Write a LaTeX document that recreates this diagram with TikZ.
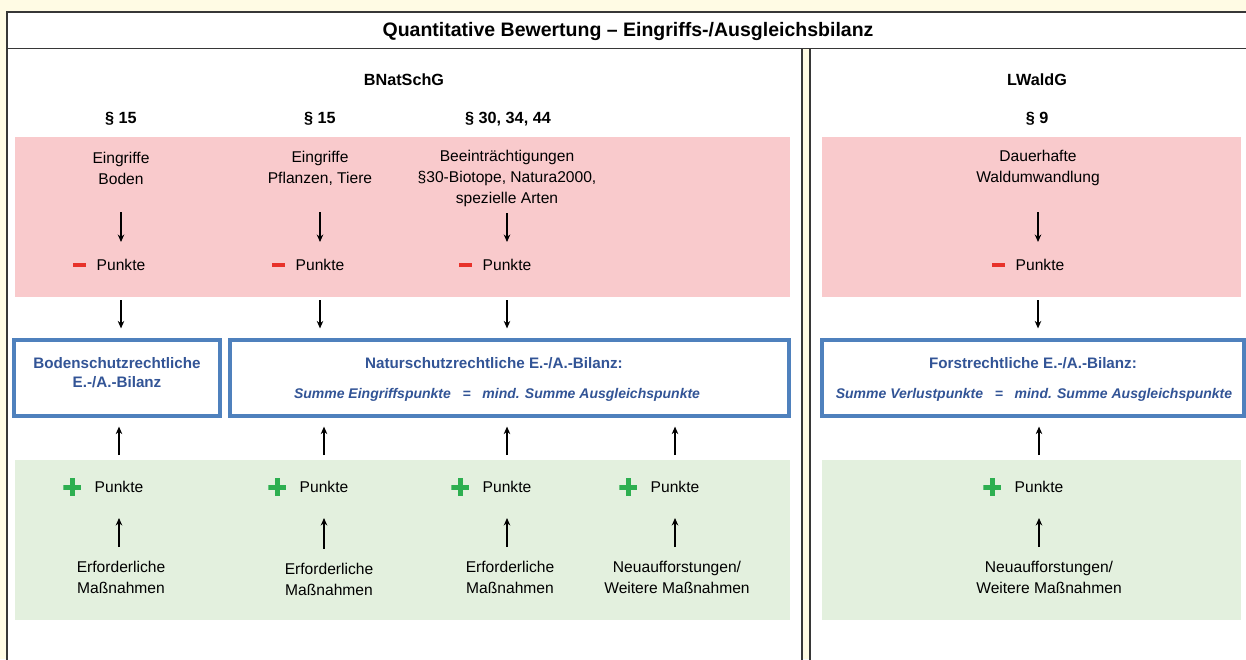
\documentclass[tikz,border=0pt]{standalone}
\usepackage{fontspec}
\setmainfont{Liberation Sans}
\usetikzlibrary{arrows.meta,positioning,calc}
\definecolor{cream}{RGB}{255,251,228}
\definecolor{rahmen}{RGB}{55,55,55}
\definecolor{rosa}{RGB}{249,202,204}
\definecolor{hellgruen}{RGB}{227,240,222}
\definecolor{blaurand}{RGB}{79,129,189}
\definecolor{blautext}{RGB}{50,84,150}
\definecolor{minusrot}{RGB}{232,50,42}
\definecolor{plusgruen}{RGB}{45,175,80}

\begin{document}
\begin{tikzpicture}[x=1pt,y=-1pt,
  txt/.style={font=\fontsize{15.6}{21}\selectfont, align=center, inner sep=0pt},
  head/.style={font=\fontsize{16.2}{18}\selectfont\bfseries, inner sep=0pt},
  bilanz/.style={draw=blaurand, line width=3.2pt, minimum height=76pt, inner sep=0pt},
  bluetxt/.style={txt, text=blautext, font=\fontsize{15.2}{19}\selectfont\bfseries},
  formel/.style={txt, text=blautext, font=\fontsize{14}{18}\selectfont\bfseries\itshape},
  minusbar/.style={fill=minusrot, minimum width=13pt, minimum height=4.5pt, inner sep=0pt},
  plusmark/.style={minimum size=18pt, inner sep=0pt, path picture={
      \fill[plusgruen] ([yshift=-2.5pt]path picture bounding box.west) rectangle ([yshift=2.5pt]path picture bounding box.east);
      \fill[plusgruen] ([xshift=-2.5pt]path picture bounding box.north) rectangle ([xshift=2.5pt]path picture bounding box.south);}},
  arr/.style={-{Stealth[length=7.5pt,width=6.5pt]}, line width=1.1pt},
  rahmenlinie/.style={draw=rahmen, line width=1.4pt}]

\useasboundingbox (0,0) rectangle (1246,659);
\fill[cream] (0,0) rectangle (1246,659);

% Rahmen
\filldraw[rahmenlinie, fill=white] (7,12) rectangle (1262,48.5);
\filldraw[rahmenlinie, fill=white] (7,48.5) rectangle (802,680);
\filldraw[rahmenlinie, fill=white] (810,48.5) rectangle (1262,680);

% Flaechen
\fill[rosa] (15,137) rectangle (790,297);
\fill[rosa] (822,137) rectangle (1241,297);
\fill[hellgruen] (15,460) rectangle (790,620);
\fill[hellgruen] (822,460) rectangle (1241,620);

% Ueberschriften
\node[head, font=\fontsize{19.5}{22}\selectfont\bfseries] (titel) at (628,31) {Quantitative Bewertung – Eingriffs-/Ausgleichsbilanz};
\node[head] (bnat) at (404,80) {BNatSchG};
\node[head] (lwald) at (1037,80) {LWaldG};
\node[head] (par1) at (121,119) {§ 15};
\node[head] (par2) at (320,119) {§ 15};
\node[head] (par3) at (508,119) {§ 30, 34, 44};
\node[head] (par4) at (1037,119) {§ 9};

% Eingriffe
\node[txt] (e1) at (121,168) {Eingriffe\\Boden};
\node[txt] (e2) at (320,168) {Eingriffe\\Pflanzen, Tiere};
\node[txt] (e3) at (507,178) {Beeinträchtigungen\\§30-Biotope, Natura2000,\\spezielle Arten};
\node[txt] (e4) at (1038,168) {Dauerhafte\\Waldumwandlung};

\node[txt] (m1) at (121,265) {Punkte};
\node[txt] (m2) at (320,265) {Punkte};
\node[txt] (m3) at (507,265) {Punkte};
\node[txt] (m4) at (1040,265) {Punkte};
\foreach \i in {1,...,4}
  \node[minusbar, left=10pt of m\i] (minus\i) {};

\draw[arr, shorten <=44pt, shorten >=23pt] (e1.center) -- (m1.center);
\draw[arr, shorten <=44pt, shorten >=23pt] (e2.center) -- (m2.center);
\draw[arr, shorten <=35pt, shorten >=23pt] (e3.center) -- (m3.center);
\draw[arr, shorten <=44pt, shorten >=23pt] (e4.center) -- (e4 |- m4.center);

% Bilanzen
\node[bilanz, minimum width=206pt] (boden) at (117,378) {};
\node[bilanz, minimum width=559pt] (natur) at (509.5,378) {};
\node[bilanz, minimum width=422pt] (forst) at (1033,378) {};

\node[bluetxt] (bodentxt) at (117,372.5) {Bodenschutzrechtliche\\E.-/A.-Bilanz};
\node[bluetxt] (naturtxt) at (494,363) {Naturschutzrechtliche E.-/A.-Bilanz:};
\node[formel] (naturformel) at (497,395) {Summe Eingriffspunkte \ \ = \ \ mind. Summe Ausgleichspunkte};
\node[bluetxt] (forsttxt) at (1033,363) {Forstrechtliche E.-/A.-Bilanz:};
\node[formel] (forstformel) at (1034,395) {Summe Verlustpunkte \ \ = \ \ mind. Summe Ausgleichspunkte};

\draw[arr, shorten <=35pt, shorten >=10pt] (m1.center) -- (m1 |- boden.north);
\draw[arr, shorten <=35pt, shorten >=10pt] (m2.center) -- (m2 |- natur.north);
\draw[arr, shorten <=35pt, shorten >=10pt] (m3.center) -- (m3 |- natur.north);
\draw[arr, shorten <=35pt, shorten >=10pt] (e4 |- m4.center) -- (e4 |- forst.north);

% Ausgleich
\node[txt] (g1) at (119,487) {Punkte};
\node[txt] (g2) at (324,487) {Punkte};
\node[txt] (g3) at (507,487) {Punkte};
\node[txt] (g4) at (675,487) {Punkte};
\node[txt] (g5) at (1039,487) {Punkte};
\foreach \i in {1,...,5}
  \node[plusmark, left=13pt of g\i] (plus\i) {};

\node[txt] (t1) at (121,577.5) {Erforderliche\\Maßnahmen};
\node[txt] (t2) at (329,579) {Erforderliche\\Maßnahmen};
\node[txt] (t3) at (510,577.5) {Erforderliche\\Maßnahmen};
\node[txt] (t4) at (677,577.5) {Neuaufforstungen/\\Weitere Maßnahmen};
\node[txt] (t5) at (1049,577.5) {Neuaufforstungen/\\Weitere Maßnahmen};

\foreach \i in {1,...,5}
  \draw[arr, shorten <=14pt, shorten >=31pt] (g\i |- t\i.north) -- (g\i.center);

\draw[arr, shorten <=32pt, shorten >=9pt] (g1.center) -- (g1 |- boden.south);
\draw[arr, shorten <=32pt, shorten >=9pt] (g2.center) -- (g2 |- natur.south);
\draw[arr, shorten <=32pt, shorten >=9pt] (g3.center) -- (g3 |- natur.south);
\draw[arr, shorten <=32pt, shorten >=9pt] (g4.center) -- (g4 |- natur.south);
\draw[arr, shorten <=32pt, shorten >=9pt] (g5.center) -- (g5 |- forst.south);
\end{tikzpicture}
\end{document}
